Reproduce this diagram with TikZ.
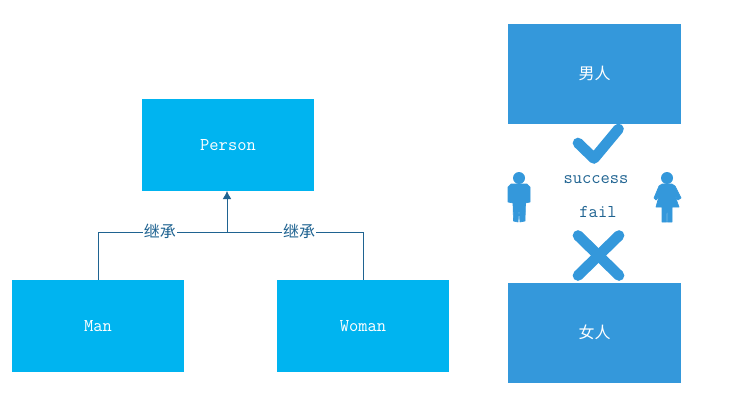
\documentclass[tikz,border=0pt]{standalone}
\usetikzlibrary{arrows.meta}
\usepackage{fontspec}
\newfontfamily\cjkfont{Noto Sans CJK SC}
\definecolor{skyfill}{HTML}{00B4F0}
\definecolor{bluefill}{HTML}{3498DB}
\definecolor{linkcol}{HTML}{1F6391}
\begin{document}
\begin{tikzpicture}[x=0.75pt,y=-0.75pt]
  \tikzstyle{classbox}=[rectangle,fill=skyfill,text=white,minimum width=129pt,minimum height=69pt,inner sep=0pt,font=\ttfamily\fontsize{13.5}{15}\selectfont]
  \tikzstyle{sexbox}=[rectangle,fill=bluefill,text=white,minimum width=129.75pt,minimum height=75pt,inner sep=0pt,font=\cjkfont\fontsize{12}{14}\selectfont]
  \tikzstyle{link}=[draw=linkcol,line width=0.6pt]
  \tikzstyle{linklabel}=[fill=white,text=linkcol,inner sep=0.5pt,font=\cjkfont\fontsize{12}{14}\selectfont]
  \tikzstyle{wordlabel}=[text=linkcol,inner sep=0pt,font=\ttfamily\fontsize{13.5}{15}\selectfont]
  \tikzstyle{signline}=[draw=bluefill,line width=8pt,line cap=round,line join=round]
  \tikzstyle{figure}=[fill=bluefill,draw=bluefill,line width=0.5pt,line join=round]
  \useasboundingbox (0,0) rectangle (739,412);

  \node[classbox] (person) at (228,145) {Person};
  \node[classbox] (man) at (98,326) {Man};
  \node[classbox] (woman) at (363,326) {Woman};
  \coordinate (joint) at (227,232);

  \draw[link] (man.north) |- node[linklabel,pos=0.74,yshift=0.75pt] (inherit1) {继承} (joint);
  \draw[link] (woman.north) |- node[linklabel,pos=0.735,yshift=0.75pt] (inherit2) {继承} (joint);
  \draw[link,-{Latex[length=6pt,width=6.5pt]}] (joint) -- (227,191);

  \node[sexbox] (male) at (594.5,74) {\raisebox{1.5pt}{男人}};
  \node[sexbox] (female) at (594.5,333) {\raisebox{1.5pt}{女人}};
  \node[wordlabel] (success) at (596,180) {success};
  \node[wordlabel] (fail) at (598,212) {fail};

  % check and cross
  \draw[signline] (578,143) -- (594,158.5) -- (618.5,129);
  \draw[signline] (578,235.5) -- (619,275.5);
  \draw[signline] (619,235.5) -- (578,275.5);

  % man figure
  \fill[bluefill] (519,178) circle (4.5pt);
  \draw[figure] (511,184) -- (527,184) -- (530,187) -- (530,202) -- (525.5,203) -- (525,221) -- (520,222) -- (519.3,212) -- (518.7,212) -- (518,222) -- (513.5,221) -- (513,203) -- (508,202) -- (508,187) -- cycle;

  % woman figure
  \fill[bluefill] (667,178) circle (4.5pt);
  \draw[figure] (662,184) -- (672,184) -- (675,186) -- (681,198) -- (678,200) -- (675,196) -- (679,207) -- (672,207) -- (672,222) -- (667.4,222) -- (667.2,210) -- (666.8,210) -- (666.6,222) -- (662,222) -- (662,207) -- (656,207) -- (659,196) -- (656,200) -- (654,198) -- (659,186) -- cycle;
\end{tikzpicture}
\end{document}
